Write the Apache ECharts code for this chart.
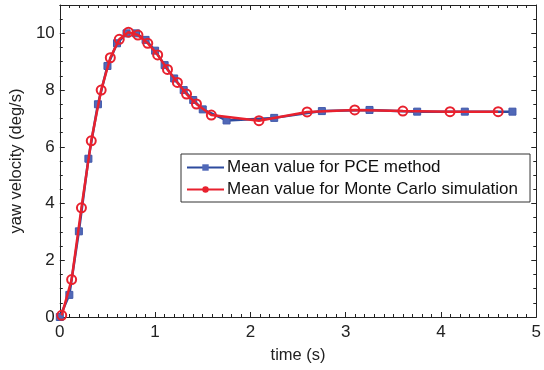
<!DOCTYPE html>
<html>
<head>
<meta charset="utf-8">
<script src="https://cdn.jsdelivr.net/npm/echarts@6/dist/echarts.min.js"></script>
<style>
  html, body { margin: 0; padding: 0; background: #fff; }
  #chart { width: 544px; height: 370px; }
</style>
</head>
<body>
<div id="chart"></div>
<script>
// Yaw velocity response: PCE mean vs Monte Carlo mean
const pceTime = [0, 0.1, 0.2, 0.3, 0.4, 0.5, 0.6, 0.7, 0.8, 0.9, 1.0, 1.1, 1.2, 1.3, 1.4, 1.5, 1.75, 2.25, 2.75, 3.25, 3.75, 4.25, 4.75];
const pceMean = [0.0, 0.78, 3.02, 5.58, 7.50, 8.85, 9.65, 10.0, 10.0, 9.77, 9.39, 8.88, 8.41, 8.0, 7.65, 7.32, 6.93, 7.02, 7.26, 7.30, 7.24, 7.24, 7.24];

const mcTime = [0.02, 0.124, 0.227, 0.33, 0.434, 0.53, 0.624, 0.72, 0.82, 0.923, 1.027, 1.13, 1.234, 1.33, 1.434, 1.59, 2.09, 2.595, 3.095, 3.6, 4.095, 4.6];
const mcMean = [0.06, 1.32, 3.85, 6.21, 8.0, 9.14, 9.79, 10.04, 9.94, 9.65, 9.24, 8.73, 8.27, 7.86, 7.51, 7.12, 6.92, 7.23, 7.30, 7.26, 7.24, 7.24];

const xTicks = [0, 1, 2, 3, 4, 5];
const yTicks = [0, 2, 4, 6, 8, 10];

const seriesNames = ['Mean value for PCE method', 'Mean value for Monte Carlo simulation'];

const zip = (xs, ys) => xs.map((x, i) => [x, ys[i]]);

const FONT = 'Liberation Sans, Arial, sans-serif';
const axisColor = '#222';
const blue = '#2d4b9e';
const red = '#e8212e';

const chart = echarts.init(document.getElementById('chart'), null, { renderer: 'canvas' });

const boxAxis = (extra) => Object.assign({
  axisLine: { show: true, onZero: false, lineStyle: { color: axisColor, width: 1 } },
  axisTick: { show: true, inside: true, length: 5, lineStyle: { color: axisColor } },
  splitLine: { show: false },
  minorSplitLine: { show: false }
}, extra);

const minor = (n) => ({ show: true, splitNumber: n, length: 3, lineStyle: { color: axisColor } });

chart.setOption({
  animation: false,
  backgroundColor: '#fff',
  grid: { left: 57, right: 2, top: 5, bottom: 53, containLabel: false },
  legend: {
    left: 181, top: 154,
    orient: 'vertical',
    data: [
      { name: seriesNames[0], itemStyle: { color: '#5068b8', borderWidth: 0 } },
      { name: seriesNames[1], itemStyle: { color: red, borderWidth: 0 } }
    ],
    itemWidth: 37, itemHeight: 8, itemGap: 5,
    padding: [5, 12, 4, 5],
    borderColor: '#333', borderWidth: 1,
    backgroundColor: '#fff',
    textStyle: { fontFamily: FONT, fontSize: 17, color: '#111', padding: [0, 0, 0, -2] }
  },
  xAxis: [
    boxAxis({
      type: 'value', min: 0, max: 5, interval: 1, minorTick: minor(10),
      name: 'time (s)', nameLocation: 'middle', nameGap: 30,
      nameTextStyle: { fontFamily: FONT, fontSize: 16.5, color: '#222' },
      axisLabel: { fontFamily: FONT, fontSize: 17, color: '#222', margin: 7,
        formatter: v => xTicks.includes(v) ? String(v) : '' }
    }),
    boxAxis({
      type: 'value', min: 0, max: 5, interval: 1, position: 'top',
      minorTick: minor(10), axisLabel: { show: false }
    })
  ],
  yAxis: [
    boxAxis({
      type: 'value', min: 0, max: 11, interval: 2, minorTick: minor(4),
      name: 'yaw velocity (deg/s)', nameLocation: 'middle', nameGap: 27, nameRotate: 90,
      nameTextStyle: { fontFamily: FONT, fontSize: 16.5, color: '#222' },
      axisLabel: { fontFamily: FONT, fontSize: 17, color: '#222', margin: 5,
        formatter: v => yTicks.includes(v) ? String(v) : '' }
    }),
    boxAxis({
      type: 'value', min: 0, max: 11, interval: 2, position: 'right',
      minorTick: minor(4), axisLabel: { show: false }
    })
  ],
  series: [
    {
      name: seriesNames[0], type: 'line', xAxisIndex: 0, yAxisIndex: 0,
      data: zip(pceTime, pceMean),
      symbol: 'rect', symbolSize: 7, showAllSymbol: true,
      lineStyle: { color: blue, width: 2.5 },
      itemStyle: { color: '#5068b8', borderColor: '#4058aa', borderWidth: 1 },
      z: 2
    },
    {
      name: seriesNames[1], type: 'line', xAxisIndex: 0, yAxisIndex: 0,
      data: zip(mcTime, mcMean),
      symbol: 'circle', symbolSize: 9, showAllSymbol: true,
      lineStyle: { color: red, width: 2.5 },
      itemStyle: { color: 'rgba(255,255,255,0)', borderColor: red, borderWidth: 2 },
      z: 3
    }
  ]
});
</script>
</body>
</html>
